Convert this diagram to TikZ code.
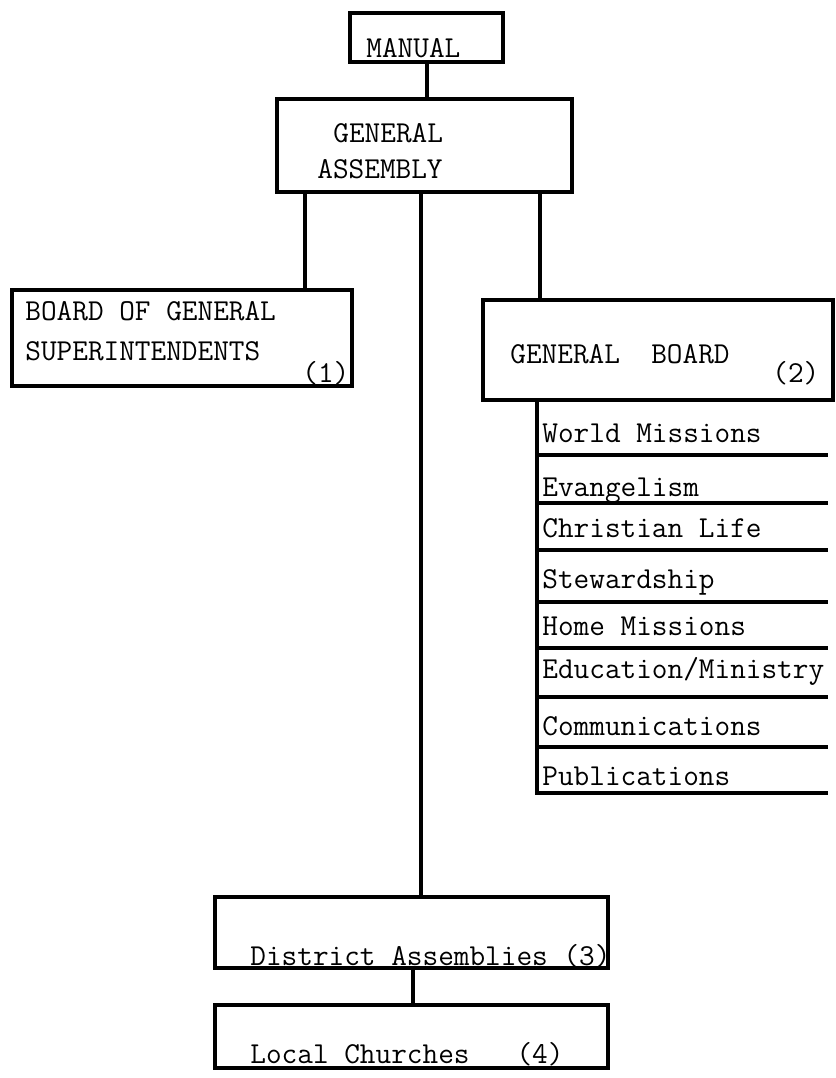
\documentclass[tikz,border=0pt]{standalone}
\usetikzlibrary{fit}

\tikzset{
	box/.style={draw, line width=2pt, inner sep=0pt},
	link/.style={line width=2pt, line cap=rect},
	txt/.style={inner sep=0pt, anchor=base west, font=\ttfamily\fontsize{15.2}{18}\selectfont},
}

\begin{document}
\begin{tikzpicture}[x=0.5pt, y=-0.5pt]

\def\sx{537}
\def\sw{289}

\path [use as bounding box] (0,0) rectangle (836,1078);

% BOXES
\node [box, fit={(350,13) (503,62)}] (manual) {};
\node [box, fit={(277,99) (572,192)}] (ga) {};
\node [box, fit={(12,290) (352,386)}] (bgs) {};
\node [box, fit={(483,300) (833,400)}] (gb) {};
\node [box, fit={(215,897) (608,968)}] (district) {};
\node [box, fit={(215,1005) (608,1068)}] (local) {};

% TEXT
\node [txt] (manualtext) at (366,57) {MANUAL};
\node [txt] (gatext1) at (333,142) {GENERAL};
\node [txt] (gatext2) at (317,178) {ASSEMBLY};
\node [txt] (bgstext1) at (25,320) {BOARD OF GENERAL};
\node [txt] (bgstext2) at (25,360) {SUPERINTENDENTS};
\node [txt] (bgsnum) at (302,382) {(1)};
\node [txt] (gbtext) at (510,363) {GENERAL\ \ BOARD};
\node [txt] (gbnum) at (772,382) {(2)};
\node [txt] (districttext) at (250,965) {District Assemblies (3)};
\node [txt] (localtext) at (250,1063) {Local Churches\ \ \ (4)};

% COMMITTEES
\node [txt] (world) at (542,442) {World Missions};
\node [txt] (evangelism) at (542,496) {Evangelism};
\node [txt] (christian) at (542,537) {Christian Life};
\node [txt] (steward) at (542,588) {Stewardship};
\node [txt] (home) at (542,635) {Home Missions};
\node [txt] (education) at (542,678) {Education/Ministry};
\node [txt] (comm) at (542,735) {Communications};
\node [txt] (pub) at (542,785) {Publications};

% CONNECTORS
\coordinate (galeft) at (305,192);
\coordinate (gamid) at (421,192);
\coordinate (garight) at (540,192);
\coordinate (dlink) at (413,968);
\coordinate (spine) at (\sx,400);

\draw [link] (manual.south) -- (manual.south |- ga.north);
\draw [link] (galeft) -- (galeft |- bgs.north);
\draw [link] (gamid) -- (gamid |- district.north);
\draw [link] (garight) -- (garight |- gb.north);
\draw [link] (dlink) -- (dlink |- local.north);
\draw [link] (spine) -- (\sx,793);

% RULES
\draw [link] (\sx,455) -- +(\sw,0);
\draw [link] (\sx,503) -- +(\sw,0);
\draw [link] (\sx,550) -- +(\sw,0);
\draw [link] (\sx,602) -- +(\sw,0);
\draw [link] (\sx,648) -- +(\sw,0);
\draw [link] (\sx,697) -- +(\sw,0);
\draw [link] (\sx,747) -- +(\sw,0);
\draw [link] (\sx,793) -- +(\sw,0);

\end{tikzpicture}
\end{document}
